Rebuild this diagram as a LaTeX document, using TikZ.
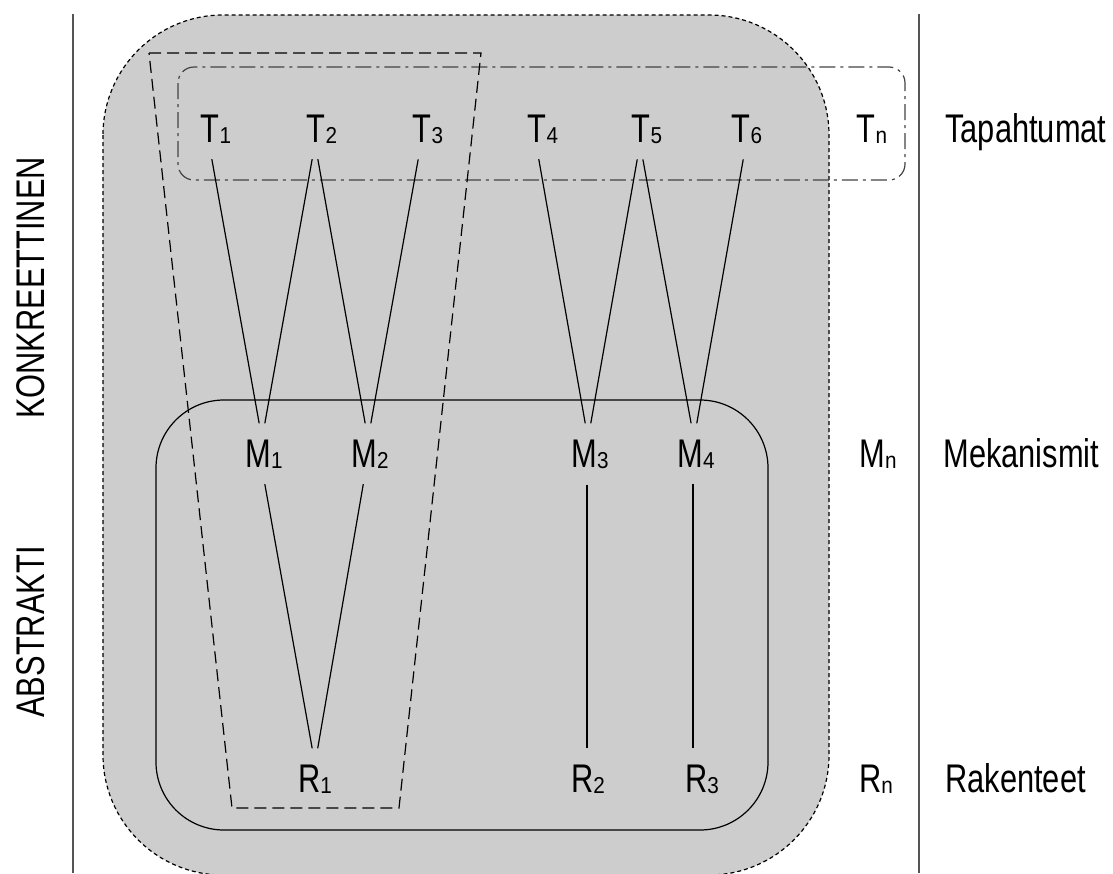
\documentclass[tikz,border=0pt]{standalone}
\usepackage{fontspec}
\setmainfont{Liberation Sans}[FakeStretch=0.77]
\newfontfamily\subfnt{Liberation Sans}[FakeStretch=0.9]
\usetikzlibrary{positioning,calc}
\definecolor{frame}{HTML}{555555}
\definecolor{shade}{HTML}{CDCDCD}
\newcommand{\ix}[1]{\raisebox{-0.5pt}{\subfnt\fontsize{11.5}{11.5}\selectfont #1}}

\begin{document}
\begin{tikzpicture}[x=0.5pt,y=-0.5pt,
  lbl/.style={anchor=base,inner sep=0pt,font=\fontsize{20}{24}\selectfont},
  side/.style={anchor=base west,inner sep=0pt,font=\fontsize{20}{24}\selectfont},
  level/.style={rotate=90,inner sep=0pt,font=\fontsize{20}{24}\selectfont},
  link/.style={line width=0.6pt,shorten <=8pt,shorten >=8pt}]
  \clip (0,0) rectangle (1113,873);
  % areas
  \draw[fill=shade,line width=0.6pt,dash pattern=on 2pt off 1.5pt,rounded corners=60pt]
    (103,15) rectangle (829,875);
  \draw[frame!80!black,line width=0.6pt,dash pattern=on 8pt off 2.5pt on 1.5pt off 2.5pt,rounded corners=8pt]
    (178,67) rectangle (905,180);
  \draw[line width=0.6pt,dash pattern=on 6pt off 3pt]
    (149,53) -- (481,53) -- (399,808) -- (232,808) -- cycle;
  \draw[line width=0.6pt,rounded corners=34pt] (156,400) rectangle (768,830);
  % divider lines
  \draw[frame,line width=0.8pt] (73,14) -- (73,873);
  \draw[frame,line width=0.8pt] (919,14) -- (919,873);
  % events
  \node[lbl] (T1) at (216,142) {T\ix{1}};
  \node[lbl] (T2) at (322,142) {T\ix{2}};
  \node[lbl] (T3) at (428,142) {T\ix{3}};
  \node[lbl] (T4) at (543,142) {T\ix{4}};
  \node[lbl] (T5) at (647,142) {T\ix{5}};
  \node[lbl] (T6) at (747,142) {T\ix{6}};
  \node[lbl] (Tn) at (872,142) {T\ix{n}};
  % mechanisms
  \node[lbl] (M1) at (264,467) {M\ix{1}};
  \node[lbl] (M2) at (370,467) {M\ix{2}};
  \node[lbl] (M3) at (590,467) {M\ix{3}};
  \node[lbl] (M4) at (696,467) {M\ix{4}};
  \node[lbl] (Mn) at (878,467) {M\ix{n}};
  % structures
  \node[lbl] (R1) at (315,792) {R\ix{1}};
  \node[lbl] (R2) at (588,792) {R\ix{2}};
  \node[lbl] (R3) at (702,792) {R\ix{3}};
  \node[lbl] (Rn) at (876,792) {R\ix{n}};
  % links
  \draw[link] ([xshift=-3.5pt]T1.south) -- ([xshift=-1pt]M1.north);
  \draw[link] ([xshift=-3.5pt]T2.south) -- ([xshift=-1pt]M1.north);
  \draw[link] ([xshift=-3.5pt]T2.south) -- ([xshift=-1pt]M2.north);
  \draw[link] ([xshift=-3.5pt]T3.south) -- ([xshift=-1pt]M2.north);
  \draw[link] ([xshift=-3.5pt]T4.south) -- ([xshift=-1pt]M3.north);
  \draw[link] ([xshift=-3.5pt]T5.south) -- ([xshift=-1pt]M3.north);
  \draw[link] ([xshift=-3.5pt]T5.south) -- ([xshift=-1pt]M4.north);
  \draw[link] ([xshift=-0.5pt]T6.south) -- ([xshift=-1pt]M4.north);
  \draw[link] ([xshift=-1pt]M1.south) -- (R1.north);
  \draw[link] ([xshift=-2pt]M2.south) -- (R1.north);
  \draw[link] ([xshift=-1.5pt]M3.south) -- ([xshift=-0.5pt]R2.north);
  \draw[link] ([xshift=-1.5pt]M4.south) -- ([xshift=-4.5pt]R3.north);
  % right labels
  \node[side] (tap) at (945,142) {Tapahtumat};
  \node[side] (mek) at (943,467) {Mekanismit};
  \node[side] (rak) at (945,792) {Rakenteet};
  % left labels
  \node[level] (konk) at (31,288) {KONKREETTINEN};
  \node[level] (abst) at (31,632) {ABSTRAKTI};
\end{tikzpicture}
\end{document}
